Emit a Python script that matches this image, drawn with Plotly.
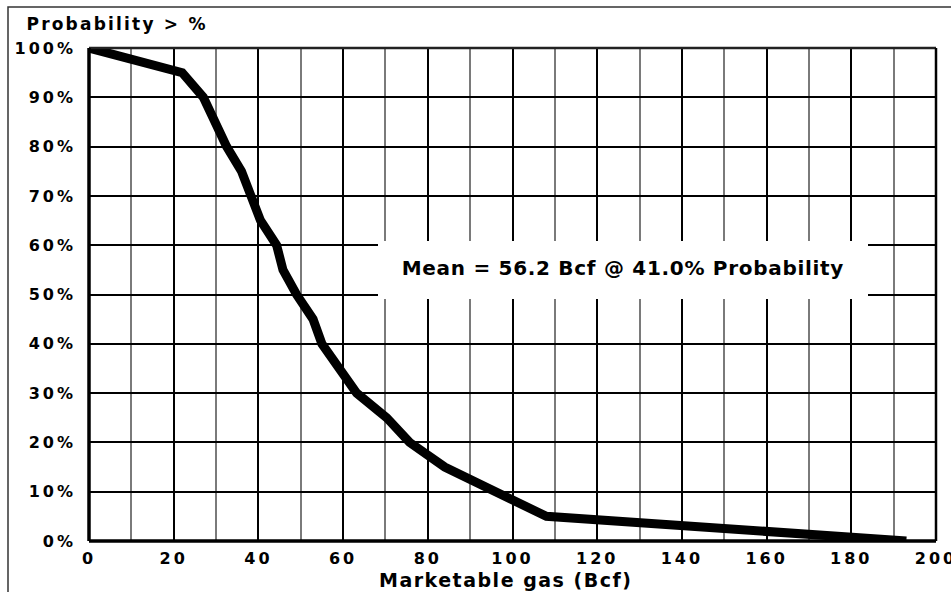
import plotly.graph_objects as go

# Data (exceedance curve)
gas_bcf = [0, 22, 27, 29.8, 32.5, 36, 38, 40.5, 44.3, 45.8, 49, 52.9, 55, 58.8, 63.2, 70.3, 75.7, 84, 95.5, 108, 193]
prob_pct = [100, 95, 90, 85, 80, 75, 70, 65, 60, 55, 50, 45, 40, 35, 30, 25, 20, 15, 10, 5, 0]

x_ticks = [0, 20, 40, 60, 80, 100, 120, 140, 160, 180, 200]
y_ticks = [0, 10, 20, 30, 40, 50, 60, 70, 80, 90, 100]
x_tick_labels = [f"<b>{v}</b>" for v in x_ticks]
y_tick_labels = [f"<b>{v}%</b>" for v in y_ticks]

mean_text = "Mean = 56.2 Bcf @ 41.0% Probability"
y_title = "Probability > %"
x_title = "Marketable gas (Bcf)"

FONT = "DejaVu Sans, Liberation Sans, Arial, sans-serif"

fig = go.Figure()
fig.add_trace(go.Scatter(
    x=gas_bcf, y=prob_pct, mode="lines",
    line=dict(color="black", width=9),
    showlegend=False, hoverinfo="skip", cliponaxis=False,
))

W, H = 951, 592
L, R, T, B = 89, 15, 48, 51
pw, ph = W - L - R, H - T - B

def px_to_paper_x(px):
    return (px - L) / pw

def px_to_paper_y(py):
    return (H - B - py) / ph

fig.update_layout(
    width=W, height=H,
    margin=dict(l=L, r=R, t=T, b=B, autoexpand=False),
    paper_bgcolor="white", plot_bgcolor="white",
    font=dict(family=FONT, color="black", size=16, weight=700),
    xaxis=dict(
        range=[0, 200], tickvals=x_ticks, ticktext=x_tick_labels,
        showgrid=True, gridcolor="black", gridwidth=2,
        minor=dict(dtick=10, showgrid=True, gridcolor="#7a7a7a", gridwidth=2, ticks=""),
        showline=False, zeroline=False, ticks="", ticklabelstandoff=6,
        ticklabeloverflow="allow",
        tickfont=dict(family=FONT, size=16, weight=700),
        fixedrange=True,
    ),
    yaxis=dict(
        range=[0, 100], tickvals=y_ticks, ticktext=y_tick_labels,
        showgrid=True, gridcolor="black", gridwidth=2,
        showline=False, zeroline=False, ticks="", ticklabelstandoff=12,
        ticklabeloverflow="allow",
        tickfont=dict(family=FONT, size=16, weight=700),
        fixedrange=True,
    ),
    shapes=[
        # outer frame (extends past the image on right/bottom)
        dict(type="rect", xref="paper", yref="paper",
             x0=px_to_paper_x(8), x1=px_to_paper_x(990),
             y0=px_to_paper_y(640), y1=px_to_paper_y(7),
             line=dict(color="#333333", width=1.5), fillcolor="rgba(0,0,0,0)", layer="below"),
        # plot border: top & right
        dict(type="line", xref="paper", yref="paper", x0=0, x1=1, y0=1, y1=1,
             line=dict(color="#222222", width=2.5)),
        dict(type="line", xref="paper", yref="paper", x0=1, x1=1, y0=0, y1=1,
             line=dict(color="black", width=2.5)),
        # left & bottom axis (thicker)
        dict(type="line", xref="paper", yref="paper", x0=0, x1=0, y0=0, y1=1,
             line=dict(color="black", width=3.5)),
        dict(type="line", xref="paper", yref="paper", x0=0, x1=1, y0=0, y1=0,
             line=dict(color="black", width=3.5)),
        # white box behind the mean label
        dict(type="rect", xref="paper", yref="paper",
             x0=px_to_paper_x(378), x1=px_to_paper_x(868),
             y0=px_to_paper_y(299), y1=px_to_paper_y(241),
             line=dict(width=0), fillcolor="white", layer="above"),
    ],
    annotations=[
        dict(text=f"<b>{mean_text}</b>", xref="paper", yref="paper",
             x=px_to_paper_x(623), y=px_to_paper_y(268),
             xanchor="center", yanchor="middle", showarrow=False,
             font=dict(family=FONT, size=20, weight=700)),
        dict(text=f"<b>{y_title}</b>", xref="paper", yref="paper",
             x=px_to_paper_x(117), y=px_to_paper_y(24),
             xanchor="center", yanchor="middle", showarrow=False,
             font=dict(family=FONT, size=17, weight=700)),
        dict(text=f"<b>{x_title}</b>", xref="paper", yref="paper",
             x=px_to_paper_x(505), y=px_to_paper_y(580),
             xanchor="center", yanchor="middle", showarrow=False,
             font=dict(family=FONT, size=19, weight=700)),
    ],
)

post = """
var s = document.createElement('style');
s.textContent = 'html, body {margin: 0; padding: 0; overflow: hidden;}'
 + ' .xtick text, .ytick text {letter-spacing: 3px;}'
 + ' text.annotation-text[data-unformatted*="Mean"] {letter-spacing: 0.7px;}'
 + ' text.annotation-text[data-unformatted*="Probability &gt;"], text.annotation-text[data-unformatted*="Probability >"] {letter-spacing: 2.2px;}'
 + ' text.annotation-text[data-unformatted*="Marketable"] {letter-spacing: 1.5px;}';
document.head.appendChild(s);
"""
fig.write_html("out.html", post_script=post, config={"displayModeBar": False})
